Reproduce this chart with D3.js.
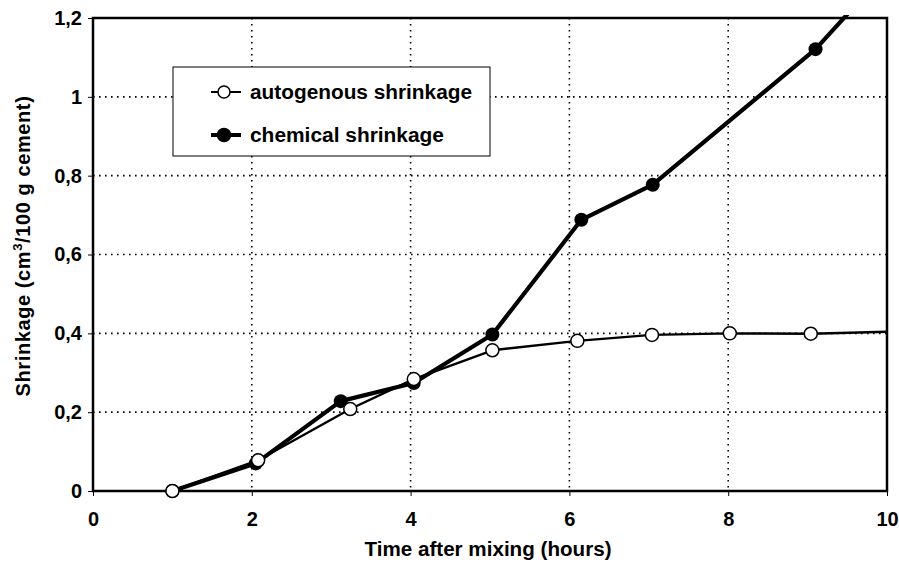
<!DOCTYPE html>
<html><head><meta charset="utf-8">
<script src="https://cdn.jsdelivr.net/npm/d3@7"></script>
<style>
body{margin:0;background:#fff;}
text{font-family:"Liberation Sans",Arial,sans-serif;font-weight:bold;fill:#000;}
</style></head>
<body><svg id="c" width="899" height="563"></svg>
<script>
const xTicks = [0, 2, 4, 6, 8, 10];
const yTicks = [0, 0.2, 0.4, 0.6, 0.8, 1, 1.2];
const autoX = [1, 2.08, 3.24, 4.04, 5.03, 6.1, 7.04, 8.02, 9.04, 10];
const autoY = [0, 0.078, 0.208, 0.284, 0.357, 0.381, 0.396, 0.4, 0.399, 0.404];
const autoMarked = [true, true, true, true, true, true, true, true, true, false];
const chemX = [1, 2.05, 3.12, 4.04, 5.03, 6.15, 7.05, 9.1, 10];
const chemY = [0, 0.07, 0.228, 0.274, 0.397, 0.688, 0.777, 1.121, 1.32];
const seriesNames = ["autogenous shrinkage", "chemical shrinkage"];

const svg = d3.select("#c");
const L = 93, R = 887, T = 18, B = 491;
const x = d3.scaleLinear().domain([0, 10]).range([L, R]);
const y = d3.scaleLinear().domain([0, 1.2]).range([B, T]);

// grid
const g = svg.append("g");
g.selectAll(".vg").data(xTicks.filter(d => d > 0 && d < 10)).enter().append("line")
  .attr("x1", d => x(d)).attr("x2", d => x(d)).attr("y1", T).attr("y2", B)
  .attr("stroke", "#000").attr("stroke-width", 1.6).attr("stroke-dasharray", "1.6,4.4");
g.selectAll(".hg").data(yTicks.filter(d => d > 0 && d < 1.2)).enter().append("line")
  .attr("x1", L).attr("x2", R).attr("y1", d => y(d)).attr("y2", d => y(d))
  .attr("stroke", "#000").attr("stroke-width", 1.6).attr("stroke-dasharray", "1.6,4.4");

// axes
const fmt = d => String(+d.toFixed(1)).replace(".", ",");
const ax = svg.append("g").attr("transform", `translate(0,${B})`)
  .call(d3.axisBottom(x).tickValues(xTicks).tickSize(5).tickPadding(16).tickFormat(fmt));
const ay = svg.append("g").attr("transform", `translate(${L},0)`)
  .call(d3.axisLeft(y).tickValues(yTicks).tickSize(5).tickPadding(6).tickFormat(fmt));
[ax, ay].forEach(a => {
  a.select(".domain").remove();
  a.selectAll("line").attr("stroke", "#000").attr("stroke-width", 1);
  a.selectAll("text").style("font-size", "20px").style("font-family", "Liberation Sans, Arial, sans-serif").style("font-weight", "bold");
});

// frame
svg.append("rect").attr("x", L).attr("y", T).attr("width", R - L).attr("height", B - T)
  .attr("fill", "none").attr("stroke", "#000").attr("stroke-width", 2.5);

// clip
svg.append("clipPath").attr("id", "clip").append("rect")
  .attr("x", L - 10).attr("y", T - 3).attr("width", R - L + 20).attr("height", B - T + 20);

const line = d3.line().x(d => x(d[0])).y(d => y(d[1]));
const autoData = autoX.map((v, i) => [v, autoY[i], autoMarked[i]]);
const chemData = chemX.map((v, i) => [v, chemY[i]]);
const plot = svg.append("g").attr("clip-path", "url(#clip)");

plot.append("path").datum(chemData).attr("d", line).attr("fill", "none")
  .attr("stroke", "#000").attr("stroke-width", 4.2).attr("stroke-linejoin", "round");
plot.append("path").datum(autoData).attr("d", line).attr("fill", "none")
  .attr("stroke", "#000").attr("stroke-width", 2.4).attr("stroke-linejoin", "round");
plot.selectAll(".cm").data(chemData).enter().append("circle")
  .attr("cx", d => x(d[0])).attr("cy", d => y(d[1])).attr("r", 7).attr("fill", "#000");
plot.selectAll(".am").data(autoData.filter(d => d[2])).enter().append("circle")
  .attr("cx", d => x(d[0])).attr("cy", d => y(d[1])).attr("r", 6.5)
  .attr("fill", "#fff").attr("stroke", "#000").attr("stroke-width", 1.5);

// legend
const lg = svg.append("g");
lg.append("rect").attr("x", 173).attr("y", 67).attr("width", 317).attr("height", 89)
  .attr("fill", "#fff").attr("stroke", "#000").attr("stroke-width", 1);
seriesNames.forEach((n, i) => {
  const ly = 92 + i * 43;
  lg.append("line").attr("x1", 211).attr("x2", 241).attr("y1", ly).attr("y2", ly)
    .attr("stroke", "#000").attr("stroke-width", i === 0 ? 2 : 4);
  lg.append("circle").attr("cx", 224).attr("cy", ly).attr("r", i === 0 ? 6 : 6.5)
    .attr("fill", i === 0 ? "#fff" : "#000").attr("stroke", "#000").attr("stroke-width", 1.5);
  lg.append("text").attr("x", 250).attr("y", ly + 7).style("font-size", "20px")
    .attr("textLength", i === 0 ? 222 : 194).attr("lengthAdjust", "spacingAndGlyphs").text(n);
});

// axis titles
svg.append("text").attr("x", 488).attr("y", 556).attr("text-anchor", "middle")
  .style("font-size", "20px").attr("textLength", 247).attr("lengthAdjust", "spacingAndGlyphs")
  .text("Time after mixing (hours)");
const yt = svg.append("text").attr("transform", "translate(30,246) rotate(-90)")
  .attr("text-anchor", "middle").style("font-size", "20px").style("letter-spacing", "0.6px");
yt.append("tspan").text("Shrinkage (cm");
yt.append("tspan").attr("dy", -8).style("font-size", "13px").text("3");
yt.append("tspan").attr("dy", 8).text("/100 g cement)");
</script></body></html>
